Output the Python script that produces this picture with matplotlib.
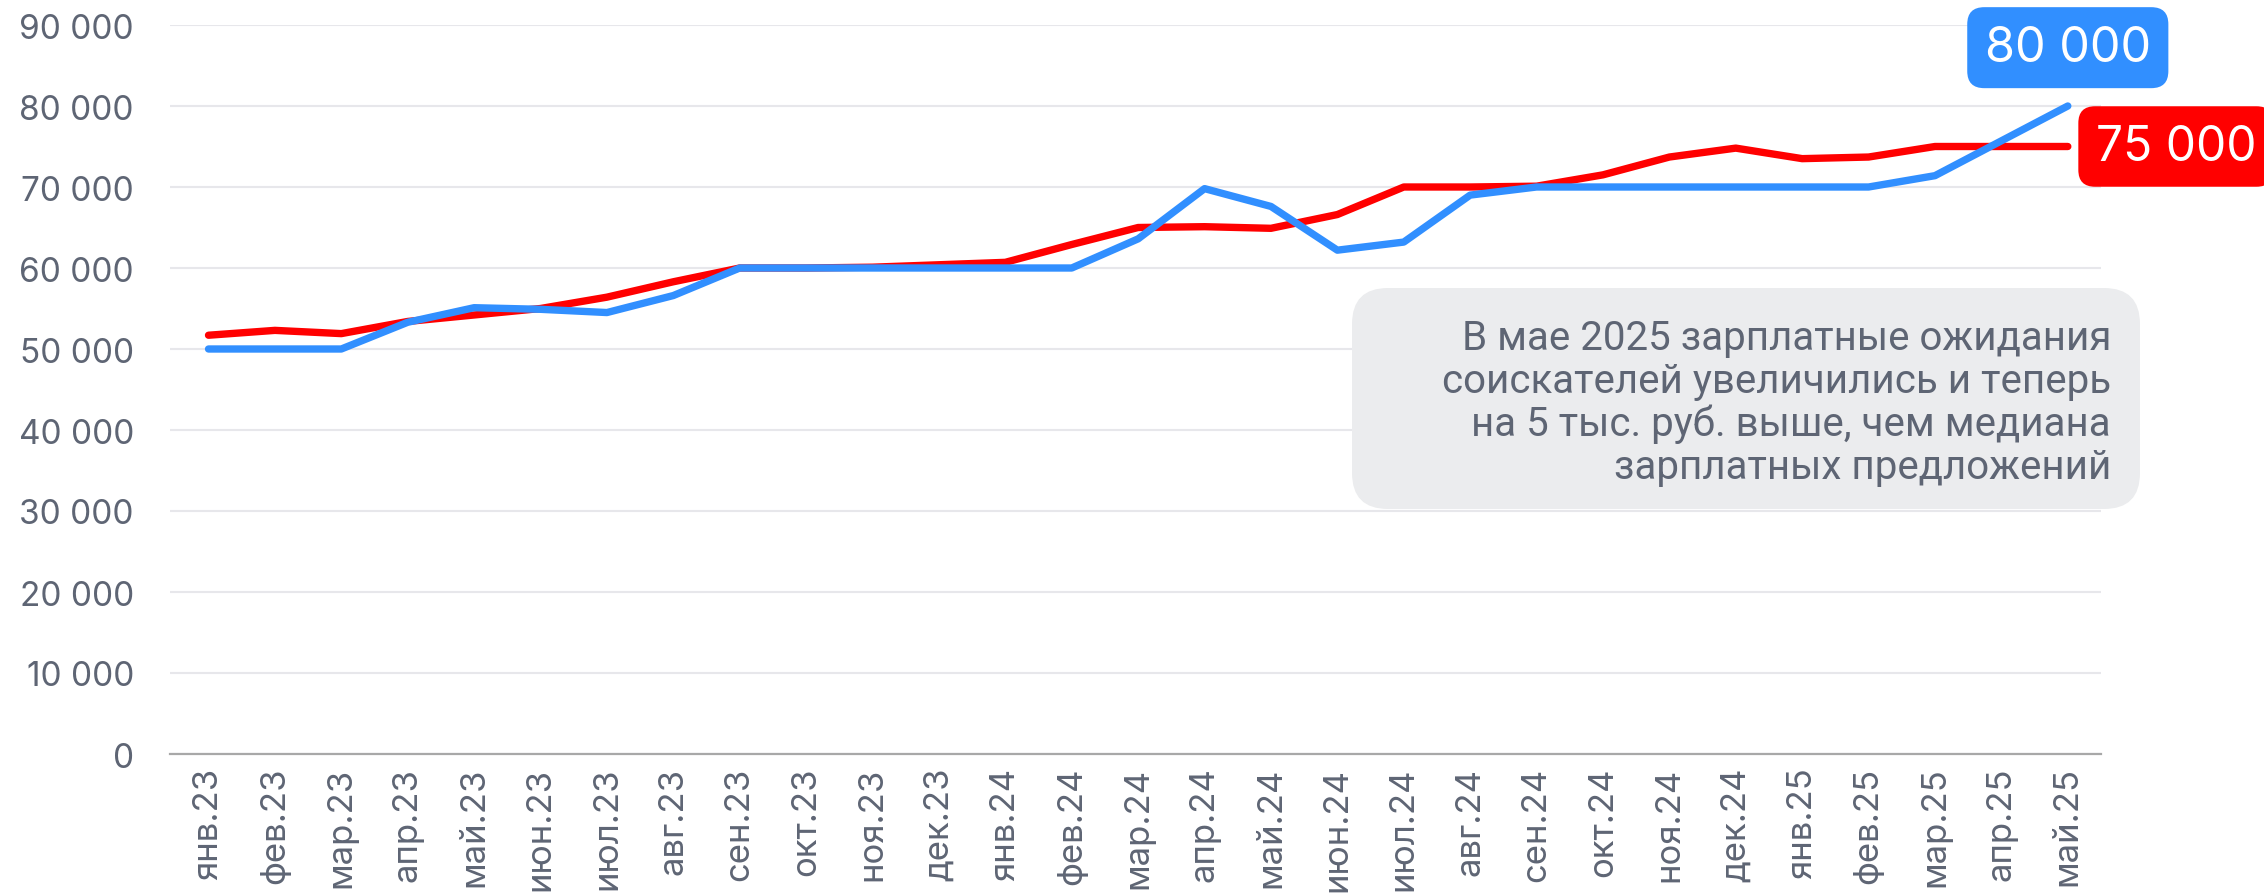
import matplotlib
matplotlib.use('Agg')
import matplotlib.pyplot as plt
from matplotlib.patches import FancyBboxPatch
from matplotlib.transforms import IdentityTransform
from matplotlib.ticker import FuncFormatter

# Data
months = ['янв.23', 'фев.23', 'мар.23', 'апр.23', 'май.23', 'июн.23', 'июл.23',
          'авг.23', 'сен.23', 'окт.23', 'ноя.23', 'дек.23', 'янв.24', 'фев.24',
          'мар.24', 'апр.24', 'май.24', 'июн.24', 'июл.24', 'авг.24', 'сен.24',
          'окт.24', 'ноя.24', 'дек.24', 'янв.25', 'фев.25', 'мар.25', 'апр.25',
          'май.25']
offers = [51700, 52300, 51900, 53400, 54200, 55000, 56400, 58300, 60000, 60000,
          60100, 60400, 60700, 62900, 65000, 65100, 64900, 66600, 70000, 70000,
          70100, 71500, 73700, 74800, 73500, 73700, 75000, 75000, 75000]
expectations = [50000, 50000, 50000, 53300, 55100, 54900, 54500, 56600, 60000, 60000,
                60000, 60000, 60000, 60000, 63600, 69800, 67600, 62200, 63200, 69000,
                70000, 70000, 70000, 70000, 70000, 70000, 71400, 75700, 80000]
y_ticks = [0, 10000, 20000, 30000, 40000, 50000, 60000, 70000, 80000, 90000]
note = ('В мае 2025 зарплатные ожидания\n'
        'соискателей увеличились и теперь\n'
        'на 5 тыс. руб. выше, чем медиана\n'
        'зарплатных предложений')

RED = '#FF0000'
BLUE = '#318FFF'
GREY_TXT = '#5E6574'

plt.rcParams['font.family'] = ['Inter', 'DejaVu Sans']

W, H = 2264, 895
fig = plt.figure(figsize=(W / 100, H / 100), dpi=100)
ax = fig.add_axes([170 / W, 1 - 755 / H, (2101 - 170) / W, (755 - 26) / H])

x = list(range(len(months)))
ax.plot(x, offers, color=RED, lw=5.3, solid_capstyle='round', solid_joinstyle='round', zorder=3)
ax.plot(x, expectations, color=BLUE, lw=5.3, solid_capstyle='round', solid_joinstyle='round', zorder=4)

ax.set_xlim(-0.58, 28.5)
ax.set_ylim(0, 90000)
ax.set_yticks(y_ticks)
ax.yaxis.set_major_formatter(FuncFormatter(lambda v, p: f'{int(v):,}'.replace(',', ' ')))
ax.set_xticks(x)
ax.set_xticklabels(months, rotation=90, fontsize=25)

ax.grid(axis='y', color='#E7E7EB', lw=1.5, zorder=0)
ax.set_axisbelow(True)
for s in ['top', 'right', 'left']:
    ax.spines[s].set_visible(False)
ax.spines['bottom'].set_color('#A8A8A8')
ax.spines['bottom'].set_linewidth(1.6)
ax.tick_params(axis='both', length=0, labelcolor=GREY_TXT)
ax.tick_params(axis='y', pad=26, labelsize=24)
ax.tick_params(axis='x', pad=9)

# end labels
ax.annotate('80 000', xy=(x[-1], expectations[-1]), xytext=(0, 42), textcoords='offset points',
            ha='center', va='center', fontsize=35, color='white', zorder=6,
            annotation_clip=False,
            bbox=dict(boxstyle='round,pad=0.36,rounding_size=0.35', fc=BLUE, ec='none'))
ax.annotate('75 000', xy=(x[-1], offers[-1]), xytext=(20, 0), textcoords='offset points',
            ha='left', va='center', fontsize=34.5, color='white', zorder=6,
            annotation_clip=False,
            bbox=dict(boxstyle='round,pad=0.36,rounding_size=0.35', fc=RED, ec='none'))

# note box (pixel coordinates)
box = FancyBboxPatch((1352, H - 510), 788, 221, boxstyle='round,pad=0,rounding_size=36',
                     transform=IdentityTransform(), fc='#EBECEE', ec='none', zorder=5)
fig.patches.append(box)
fig.text(2111 / W, 1 - 403 / H, note, ha='right', va='center', multialignment='right',
         fontsize=29, color=GREY_TXT, linespacing=1.12, zorder=6,
         family=['Roboto', 'DejaVu Sans'])

fig.savefig('out.png', dpi=100)
